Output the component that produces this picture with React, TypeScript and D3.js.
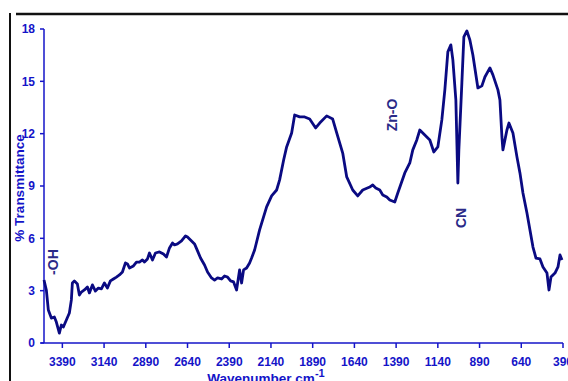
import React from "react";
import * as d3 from "d3";

const wavenumbers = [
  3500, 3486, 3474, 3456, 3438, 3426, 3408, 3396, 3384, 3366, 3348, 3336, 3330, 3318, 3300, 3288,
  3276, 3258, 3240, 3228, 3210, 3192, 3174, 3156, 3138, 3120, 3102, 3084, 3066, 3048, 3030, 3012,
  3000, 2988, 2964, 2946, 2928, 2910, 2898, 2880, 2868, 2850, 2832, 2808, 2784, 2766, 2748, 2730,
  2718, 2700, 2676, 2652, 2640, 2622, 2598, 2580, 2562, 2538, 2520, 2496, 2478, 2460, 2436, 2418,
  2400, 2382, 2364, 2346, 2328, 2316, 2304, 2286, 2268, 2256, 2238, 2208, 2166, 2136, 2106, 2088,
  2064, 2046, 2016, 1998, 1968, 1938, 1908, 1872, 1848, 1806, 1770, 1746, 1710, 1686, 1650, 1620,
  1590, 1548, 1530, 1512, 1488, 1470, 1446, 1428, 1398, 1380, 1338, 1308, 1290, 1266, 1248, 1218,
  1188, 1164, 1140, 1116, 1098, 1080, 1062, 1050, 1032, 1020, 1014, 996, 984, 966, 948, 930,
  900, 876, 858, 828, 810, 780, 768, 756, 750, 726, 714, 690, 666, 648, 630, 606,
  588, 570, 552, 528, 510, 486, 474, 462, 438, 420, 408, 396,
];

const transmittance = [
  3.61, 3.04, 1.89, 1.43, 1.49, 1.2, 0.57, 1.03, 0.92, 1.32, 1.72, 2.47, 3.44, 3.56, 3.38, 2.75,
  2.92, 3.04, 3.21, 2.87, 3.33, 2.98, 3.15, 3.1, 3.44, 3.15, 3.56, 3.67, 3.78, 3.9, 4.07, 4.59,
  4.53, 4.3, 4.42, 4.64, 4.64, 4.76, 4.64, 4.82, 5.16, 4.76, 5.16, 5.22, 5.1, 4.93, 5.45, 5.73,
  5.62, 5.68, 5.85, 6.14, 6.08, 5.91, 5.68, 5.28, 4.87, 4.47, 4.07, 3.73, 3.61, 3.73, 3.67, 3.84,
  3.78, 3.56, 3.5, 3.04, 4.19, 3.44, 4.19, 4.3, 4.59, 4.87, 5.33, 6.48, 7.8, 8.43, 8.77, 9.35,
  10.49, 11.24, 12.04, 13.07, 12.96, 12.96, 12.84, 12.33, 12.61, 13.02, 12.84, 12.04, 10.89, 9.52, 8.77, 8.43,
  8.77, 8.94, 9.06, 8.89, 8.77, 8.49, 8.37, 8.2, 8.08, 8.6, 9.75, 10.32, 11.07, 11.64, 12.21, 11.93,
  11.64, 10.95, 11.24, 12.79, 14.51, 16.69, 17.09, 16.23, 13.93, 9.17, 11.07, 14.91, 17.55, 17.89, 17.37, 16.51,
  14.62, 14.74, 15.25, 15.77, 15.37, 14.51, 13.93, 11.81, 11.07, 12.21, 12.61, 12.04, 10.67, 9.75, 8.6, 7.45,
  6.48, 5.5, 4.87, 4.82, 4.36, 4.01, 3.04, 3.78, 4.01, 4.36, 5.05, 4.76,
];

const xTicks = [3390, 3140, 2890, 2640, 2390, 2140, 1890, 1640, 1390, 1140, 890, 640, 390];
const yTicks = [0, 3, 6, 9, 12, 15, 18];

const annotations = [
  { text: "-OH", wn: 3416, v: 4.64 },
  { text: "Zn-O", wn: 1385, v: 13.07 },
  { text: "CN", wn: 971, v: 7.17 },
];

const AXIS = "#1414c8";
const LINE = "#0a0a82";
const FONT = "'Liberation Sans', Arial, sans-serif";

export default function App() {
  const x = d3.scaleLinear().domain([3500, 390]).range([44, 563]);
  const y = d3.scaleLinear().domain([0, 18]).range([343, 29]);
  const data = wavenumbers.map((w, i) => [w, transmittance[i]] as [number, number]);
  const line = d3
    .line<[number, number]>()
    .x((d) => x(d[0]))
    .y((d) => y(d[1]))
    .curve(d3.curveLinear);

  return (
    <svg
      width={568}
      height={381}
      style={{ position: "absolute", left: 0, top: 0, background: "#fff" }}
      fontFamily={FONT}
    >
      {/* frame */}
      <line x1={10} y1={13} x2={10} y2={381} stroke="#111" strokeWidth={2} />
      <line x1={16} y1={14} x2={568} y2={14} stroke="#111" strokeWidth={2.5} />

      {/* y axis */}
      <line x1={44} y1={y(18)} x2={44} y2={y(0)} stroke={AXIS} strokeWidth={1.5} />
      {yTicks.map((t) => (
        <g key={t}>
          <line x1={40} x2={44} y1={y(t)} y2={y(t)} stroke={AXIS} strokeWidth={1.5} />
          <text
            x={35}
            y={y(t)}
            dy="0.36em"
            textAnchor="end"
            fontSize={12}
            fontWeight="bold"
            fill={AXIS}
          >
            {t}
          </text>
        </g>
      ))}

      {/* x axis */}
      <line x1={41} y1={343} x2={563} y2={343} stroke={AXIS} strokeWidth={1.5} />
      {xTicks.map((t) => (
        <g key={t}>
          <line x1={x(t)} x2={x(t)} y1={343} y2={348} stroke={AXIS} strokeWidth={1.5} />
          <text
            x={x(t)}
            y={366}
            textAnchor="middle"
            fontSize={12}
            fontWeight="bold"
            fill={AXIS}
          >
            {t}
          </text>
        </g>
      ))}

      {/* axis titles */}
      <text
        x={266}
        y={382.5}
        textAnchor="middle"
        fontSize={13.5}
        fontWeight="bold"
        fill={AXIS}
      >
        Wavenumber cm
        <tspan dy={-6} fontSize={11}>
          -1
        </tspan>
      </text>
      <text
        transform="translate(24,188) rotate(-90)"
        textAnchor="middle"
        fontSize={13.5}
        fontWeight="bold"
        fill={AXIS}
      >
        % Transmittance
      </text>

      {/* spectrum */}
      <path
        d={line(data) ?? ""}
        fill="none"
        stroke={LINE}
        strokeWidth={2.8}
        strokeLinejoin="round"
      />

      {/* annotations */}
      {annotations.map((a) => (
        <text
          key={a.text}
          transform={`translate(${x(a.wn)},${y(a.v)}) rotate(-90)`}
          textAnchor="middle"
          fontSize={14}
          fontWeight="bold"
          fill="#2a2a88"
        >
          {a.text}
        </text>
      ))}
    </svg>
  );
}
